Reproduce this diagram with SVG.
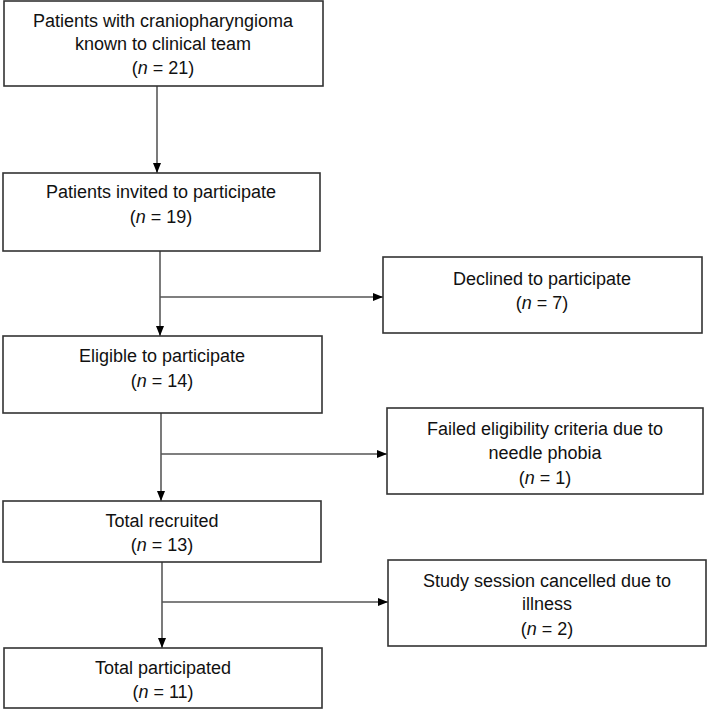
<svg xmlns="http://www.w3.org/2000/svg" width="708" height="710" viewBox="0 0 708 710">
<defs>
<marker id="ah" markerWidth="10" markerHeight="8" refX="10" refY="4" orient="auto" markerUnits="userSpaceOnUse">
<path d="M0,0 L10,4 L0,8 Z" fill="#000"/>
</marker>
<style>
.box{fill:#fff;stroke:#333;stroke-width:1.6}
.t{font-family:"Liberation Sans",Arial,sans-serif;font-size:18px;fill:#111;text-anchor:middle}
.i{font-style:italic}
.c{stroke:#222;stroke-width:1.2;fill:none}
.h{stroke:#555;stroke-width:1.4;fill:none}
</style>
</defs>
<rect width="708" height="710" fill="#fff"/>
<g id="connectors">
<line class="c" x1="157" y1="86" x2="157" y2="173" marker-end="url(#ah)"/>
<line class="c" x1="160" y1="251" x2="160" y2="336" marker-end="url(#ah)"/>
<line class="h" x1="160" y1="297" x2="383" y2="297" marker-end="url(#ah)"/>
<line class="c" x1="161" y1="413" x2="161" y2="501" marker-end="url(#ah)"/>
<line class="h" x1="161" y1="454" x2="387" y2="454" marker-end="url(#ah)"/>
<line class="c" x1="162" y1="562" x2="162" y2="648" marker-end="url(#ah)"/>
<line class="h" x1="162" y1="602" x2="388" y2="602" marker-end="url(#ah)"/>
</g>
<g id="known">
<rect class="box" x="4" y="1" width="319" height="85"/>
<text class="t" x="163" y="27">Patients with craniopharyngioma</text>
<text class="t" x="163" y="50">known to clinical team</text>
<text class="t" x="163" y="74">(<tspan class="i">n</tspan> = 21)</text>
</g>
<g id="invited">
<rect class="box" x="3" y="173" width="317" height="78"/>
<text class="t" x="161" y="198">Patients invited to participate</text>
<text class="t" x="161" y="223">(<tspan class="i">n</tspan> = 19)</text>
</g>
<g id="declined">
<rect class="box" x="383" y="257" width="319" height="76"/>
<text class="t" x="542" y="285">Declined to participate</text>
<text class="t" x="542" y="309">(<tspan class="i">n</tspan> = 7)</text>
</g>
<g id="eligible">
<rect class="box" x="3" y="336" width="319" height="77"/>
<text class="t" x="162" y="362">Eligible to participate</text>
<text class="t" x="162" y="387">(<tspan class="i">n</tspan> = 14)</text>
</g>
<g id="failed">
<rect class="box" x="387" y="408" width="316" height="86"/>
<text class="t" x="545" y="435">Failed eligibility criteria due to</text>
<text class="t" x="545" y="459">needle phobia</text>
<text class="t" x="545" y="484">(<tspan class="i">n</tspan> = 1)</text>
</g>
<g id="recruited">
<rect class="box" x="3" y="501" width="318" height="61"/>
<text class="t" x="162" y="527">Total recruited</text>
<text class="t" x="162" y="551">(<tspan class="i">n</tspan> = 13)</text>
</g>
<g id="cancelled">
<rect class="box" x="388" y="560" width="318" height="86"/>
<text class="t" x="547" y="587">Study session cancelled due to</text>
<text class="t" x="547" y="610">illness</text>
<text class="t" x="547" y="635">(<tspan class="i">n</tspan> = 2)</text>
</g>
<g id="participated">
<rect class="box" x="4" y="648" width="318" height="60"/>
<text class="t" x="163" y="674">Total participated</text>
<text class="t" x="163" y="698">(<tspan class="i">n</tspan> = 11)</text>
</g>
</svg>
